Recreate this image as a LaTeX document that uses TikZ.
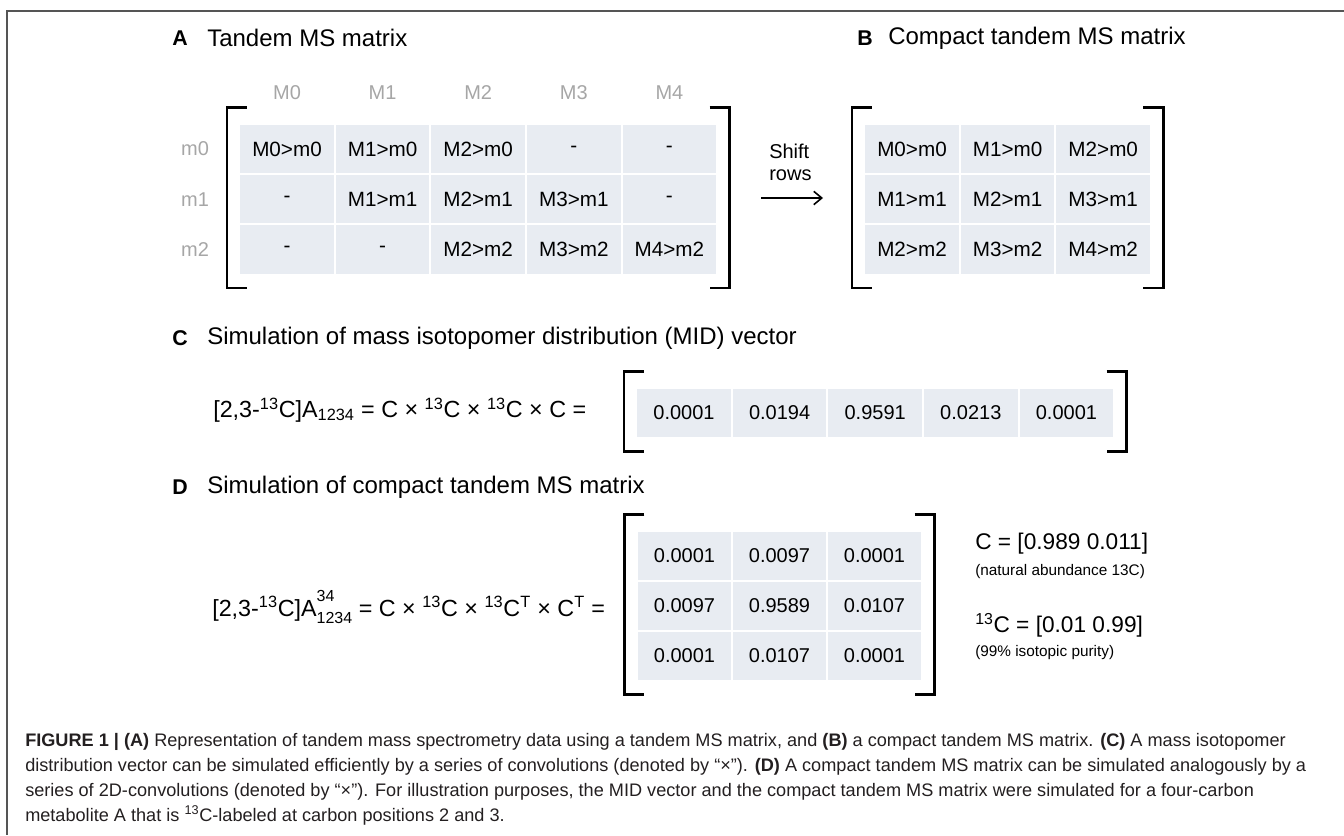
\documentclass[tikz,border=0pt]{standalone}
\usepackage{fontspec}
\setmainfont{Liberation Sans}
\usepackage{xcolor}
\usetikzlibrary{positioning,arrows.meta,fit,calc}
\definecolor{CellFill}{HTML}{E8ECF2}
\definecolor{LabelGray}{HTML}{A6A6A6}
\definecolor{FrameGray}{HTML}{555555}
\definecolor{CaptionDark}{HTML}{231F20}
\newcommand{\cthirteen}{\textsuperscript{13}C}
% square brackets round a fitted matrix node
\newcommand{\mbracket}[1]{%
  \draw[brk] ($(#1.north west)+(9,-15)$) -- ($(#1.north west)+(-11,-15)$)
    -- ($(#1.south west)+(-11,12)$) -- ($(#1.south west)+(9,12)$);
  \draw[brk] ($(#1.north east)+(-9,-15)$) -- ($(#1.north east)+(11,-15)$)
    -- ($(#1.south east)+(11,12)$) -- ($(#1.south east)+(-9,12)$);}
\begin{document}
\begin{tikzpicture}[x=0.75pt,y=-0.75pt,
    every node/.style={inner sep=0pt},
    cellbox/.style={fill=CellFill, draw=white, line width=1.5pt,
      minimum width=71.8pt, minimum height=37.8pt,
      font=\fontsize{15.5}{18}\selectfont},
    numbox/.style={cellbox, font=\fontsize{15}{18}\selectfont},
    hdr/.style={text=LabelGray, font=\fontsize{15}{18}\selectfont},
    paneltag/.style={anchor=west, font=\fontsize{16}{18}\selectfont\bfseries},
    paneltitle/.style={anchor=west, font=\fontsize{18}{21}\selectfont},
    eqn/.style={anchor=west, font=\fontsize{17.5}{21}\selectfont},
    brk/.style={line width=2pt, line join=miter},
    ar/.style={-{Straight Barb[length=6pt,width=10pt]}, line width=1.2pt}]
  \useasboundingbox (0,0) rectangle (1344,835);
  % frame
  \draw[FrameGray, line width=1.3pt] (1344,11) -- (7,11) -- (7,835);

  % A: tandem MS matrix
  \node[paneltag] (tagA) at (172,38) {A};
  \node[paneltitle] (titleA) at (207,38) {Tandem MS matrix};
  \foreach \c in {0,...,4}
    \node[hdr] (hdA\c) at ({287+95.6*\c},93) {M\c};
  \foreach \r in {0,1,2}
    \node[hdr] (rowA\r) at (195,{149+50.3*\r}) {m\r};
  \foreach \c/\r/\txt in {0/0/M0>m0, 1/0/M1>m0, 2/0/M2>m0, 3/0/-, 4/0/-,
      0/1/-, 1/1/M1>m1, 2/1/M2>m1, 3/1/M3>m1, 4/1/-,
      0/2/-, 1/2/-, 2/2/M2>m2, 3/2/M3>m2, 4/2/M4>m2}
    \node[cellbox] (a\r\c) at ({287+95.6*\c},{149+50.3*\r}) {\txt};
  \node[fit=(a00)(a24), inner sep=0pt] (amat) {};
  \mbracket{amat}

  % shift arrow
  \node[anchor=west, align=left, font=\fontsize{15}{16.5}\selectfont]
    (shift) at (769,162) {Shift\\rows};
  \coordinate (shiftS) at (761,198);
  \coordinate (shiftE) at (823,198);
  \draw[ar] (shiftS) -- (shiftE);

  % B: compact tandem MS matrix
  \node[paneltag] (tagB) at (857,38) {B};
  \node[paneltitle] (titleB) at (888,38) {Compact tandem MS matrix};
  \foreach \c/\r/\txt in {0/0/M0>m0, 1/0/M1>m0, 2/0/M2>m0,
      0/1/M1>m1, 1/1/M2>m1, 2/1/M3>m1,
      0/2/M2>m2, 1/2/M3>m2, 2/2/M4>m2}
    \node[cellbox] (b\r\c) at ({912+95.6*\c},{149+50.3*\r}) {\txt};
  \node[fit=(b00)(b22), inner sep=0pt] (bmat) {};
  \mbracket{bmat}

  % C: MID vector
  \node[paneltag] (tagC) at (172,338) {C};
  \node[paneltitle] (titleC) at (207,338)
    {Simulation of mass isotopomer distribution (MID) vector};
  \node[eqn] (eqC) at (213,410)
    {[2,3-\cthirteen]A\textsubscript{1234} = C × \cthirteen{} × \cthirteen{} × C =};
  \foreach \c/\txt in {0/0.0001, 1/0.0194, 2/0.9591, 3/0.0213, 4/0.0001}
    \node[numbox] (v\c) at ({684+95.6*\c},413) {\txt};
  \node[fit=(v0)(v4), inner sep=0pt] (cvec) {};
  \mbracket{cvec}

  % D: compact tandem MS matrix simulation
  \node[paneltag] (tagD) at (172,487) {D};
  \node[paneltitle] (titleD) at (207,487)
    {Simulation of compact tandem MS matrix};
  \node[eqn] (eqD) at (212,607)
    {[2,3-\cthirteen]A\rlap{\raisebox{0.62em}{\fontsize{12}{12}\selectfont 34}}\raisebox{-0.32em}{\fontsize{12}{12}\selectfont 1234} = C × \cthirteen{} × \cthirteen\textsuperscript{T} × C\textsuperscript{T} =};
  \foreach \c/\r/\txt in {0/0/0.0001, 1/0/0.0097, 2/0/0.0001,
      0/1/0.0097, 1/1/0.9589, 2/1/0.0107,
      0/2/0.0001, 1/2/0.0107, 2/2/0.0001}
    \node[numbox] (d\r\c) at ({684.5+95*\c},{556+50*\r}) {\txt};
  \node[fit=(d00)(d22), inner sep=0pt] (dmat) {};
  \mbracket{dmat}
  \node[anchor=west, font=\fontsize{17}{20}\selectfont] (cnat) at (975,544)
    {C = [0.989 0.011]};
  \node[anchor=west, font=\fontsize{11.5}{14}\selectfont] (cnatnote) at (975,572)
    {(natural abundance 13C)};
  \node[anchor=west, font=\fontsize{17}{20}\selectfont] (clab) at (975,625)
    {\cthirteen{} = [0.01 0.99]};
  \node[anchor=west, font=\fontsize{11.5}{14}\selectfont] (clabnote) at (975,653)
    {(99\% isotopic purity)};

  % caption
  \node[anchor=north west, align=left, text=CaptionDark,
    font=\fontsize{13.6}{18.75}\selectfont] (caption) at (25,733)
    {\textbf{FIGURE 1 | (A)} Representation of tandem mass spectrometry data using a tandem MS matrix, and \textbf{(B)} a compact tandem MS matrix. \textbf{(C)} A mass isotopomer\\
     distribution vector can be simulated efficiently by a series of convolutions (denoted by “×”). \textbf{(D)} A compact tandem MS matrix can be simulated analogously by a\\
     series of 2D-convolutions (denoted by “×”). For illustration purposes, the MID vector and the compact tandem MS matrix were simulated for a four-carbon\\
     metabolite A that is \cthirteen-labeled at carbon positions 2 and 3.};
\end{tikzpicture}
\end{document}
